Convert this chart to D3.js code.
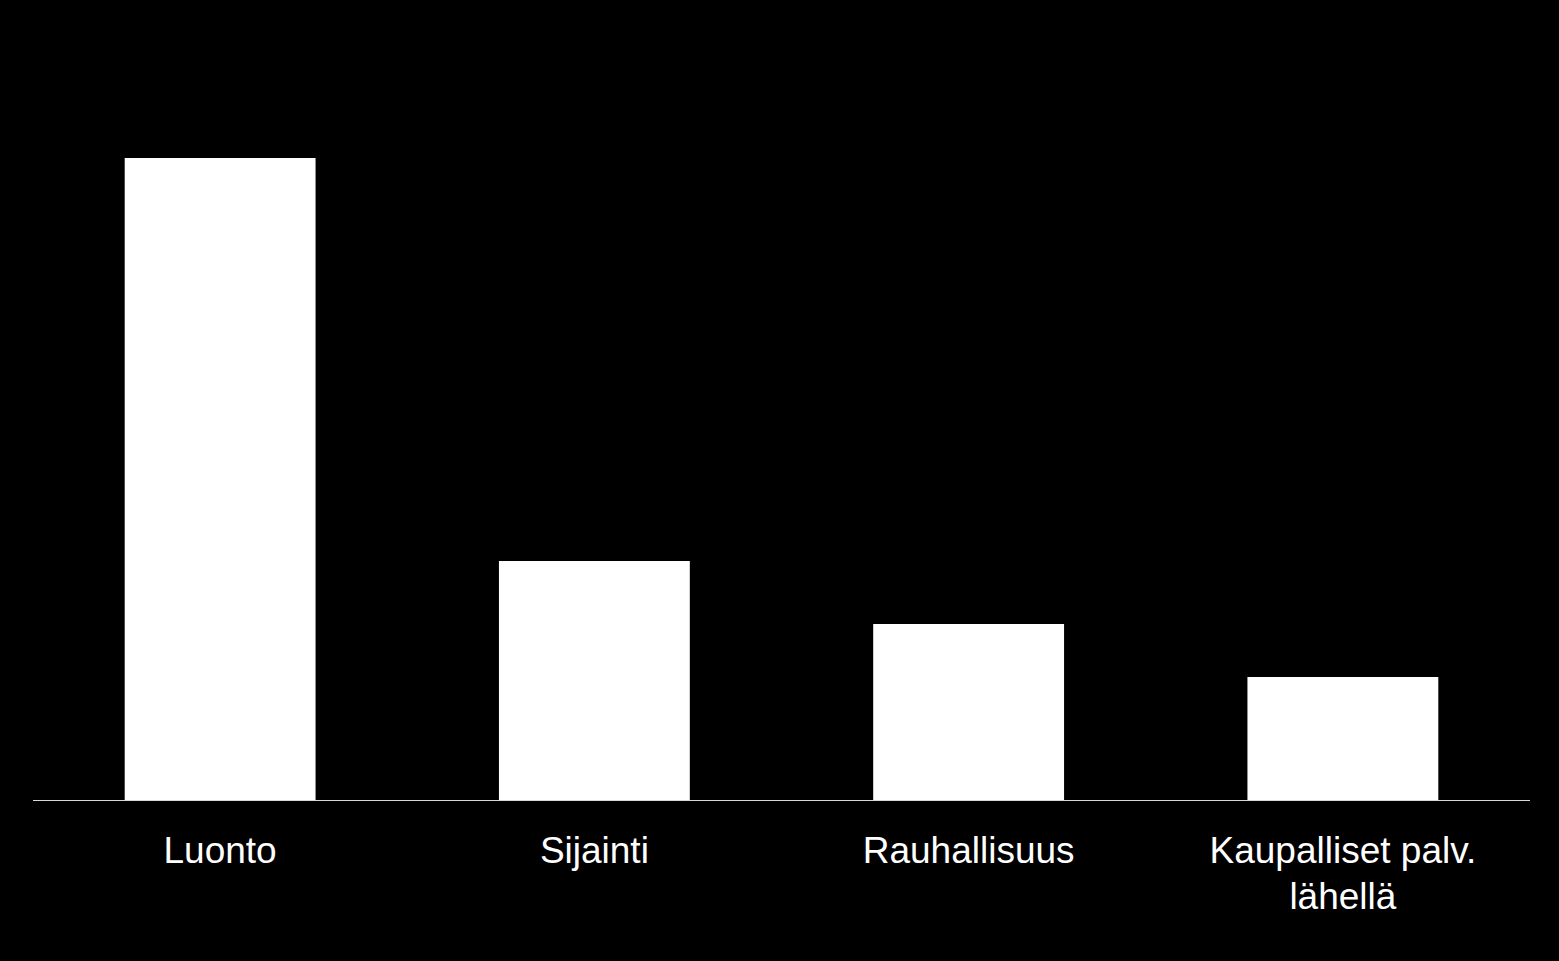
<!DOCTYPE html>
<html>
<head>
<meta charset="utf-8">
<title>Bar chart</title>
<script src="https://cdn.jsdelivr.net/npm/d3@7"></script>
<style>
html, body { margin: 0; padding: 0; background: #000; }
svg { display: block; }
</style>
</head>
<body>
<div id="chart"></div>
<script>
// categories and values (no axis shown)
var categories = ['Luonto', 'Sijainti', 'Rauhallisuus', 'Kaupalliset palv.\nlähellä'];
var values = [64.2, 23.9, 17.6, 12.3];

var width = 1559, height = 961;
var left = 33, right = 1530, base = 800;

var svg = d3.select('#chart').append('svg')
  .attr('width', width)
  .attr('height', height);

svg.append('rect').attr('width', width).attr('height', height).attr('fill', '#000');

var x = d3.scaleBand()
  .domain(categories)
  .range([left, right])
  .paddingInner(0.49)
  .paddingOuter(0.245);

var y = d3.scaleLinear()
  .domain([0, 80])
  .range([base, 0]);

svg.selectAll('rect.bar')
  .data(values)
  .enter().append('rect')
  .attr('class', 'bar')
  .attr('x', function(d, i){ return x(categories[i]); })
  .attr('width', x.bandwidth())
  .attr('y', function(d){ return y(d); })
  .attr('height', function(d){ return base - y(d); })
  .attr('fill', '#fff');

// baseline
svg.append('line')
  .attr('x1', left).attr('x2', right)
  .attr('y1', base + 0.5).attr('y2', base + 0.5)
  .attr('stroke', '#d9d9d9')
  .attr('stroke-width', 1);

// labels
var lab = svg.selectAll('text.lab')
  .data(categories)
  .enter().append('text')
  .attr('class', 'lab')
  .attr('text-anchor', 'middle')
  .attr('fill', '#fff')
  .style('font-family', '"Liberation Sans", Arial, sans-serif')
  .style('font-size', '37px');

lab.each(function(d){
  var t = d3.select(this);
  var cx = x(d) + x.bandwidth() / 2;
  d.split('\n').forEach(function(line, k){
    t.append('tspan')
      .attr('x', cx)
      .attr('y', 863 + k * 46)
      .text(line);
  });
});
</script>
</body>
</html>
